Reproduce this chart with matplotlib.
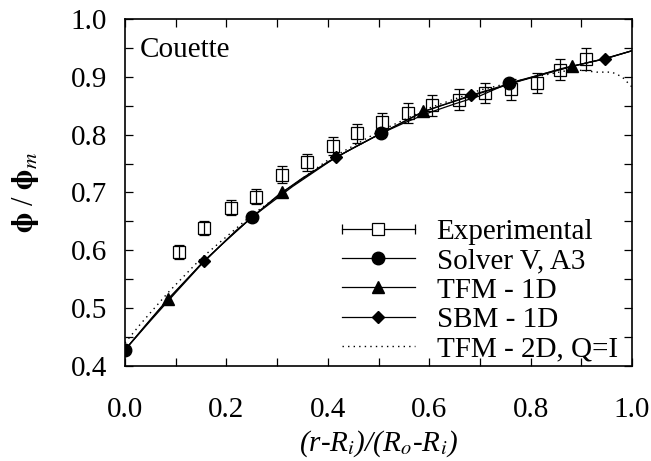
import numpy as np
import matplotlib
matplotlib.use("Agg")
import matplotlib.pyplot as plt
from matplotlib.lines import Line2D
from matplotlib.legend_handler import HandlerBase

plt.rcParams['font.family'] = ['Liberation Serif', 'DejaVu Serif']
plt.rcParams['mathtext.fontset'] = 'stix'

# Experimental data
exp_x = [0.107, 0.156, 0.209, 0.258, 0.310, 0.359, 0.410, 0.458, 0.507, 0.558,
         0.605, 0.659, 0.710, 0.761, 0.813, 0.858, 0.909]
exp_y = [0.597, 0.638, 0.674, 0.693, 0.731, 0.752, 0.780, 0.802, 0.821, 0.837,
         0.851, 0.860, 0.872, 0.878, 0.889, 0.912, 0.931]
exp_err = [0.012, 0.012, 0.013, 0.013, 0.015, 0.015, 0.016, 0.016, 0.017, 0.017,
           0.018, 0.018, 0.017, 0.018, 0.017, 0.018, 0.019]

# Solver V, A3 (markers at indices 0, 5, 10, 15)
solver_x = [0.0, 0.05, 0.10, 0.15, 0.20, 0.25, 0.30, 0.35, 0.40, 0.45, 0.505,
            0.55, 0.60, 0.65, 0.70, 0.757, 0.80, 0.85, 0.90, 0.95, 1.0]
solver_y = [0.428, 0.478, 0.527, 0.575, 0.618, 0.657, 0.694, 0.725, 0.752, 0.777, 0.802,
            0.820, 0.838, 0.853, 0.867, 0.889, 0.899, 0.911, 0.922, 0.932, 0.945]
solver_mark = [0, 5, 10, 15]

# TFM - 1D
tfm_x = [0.0, 0.04, 0.085, 0.15, 0.22, 0.31, 0.40, 0.50, 0.588, 0.68, 0.78, 0.882, 0.94, 1.0]
tfm_y = [0.428, 0.470, 0.516, 0.576, 0.635, 0.700, 0.753, 0.800, 0.840, 0.866, 0.893, 0.918, 0.930, 0.945]
tfm_mark = [2, 5, 8, 11]

# SBM - 1D
sbm_x = [0.0, 0.07, 0.156, 0.25, 0.33, 0.416, 0.50, 0.59, 0.682, 0.77, 0.86, 0.947, 1.0]
sbm_y = [0.428, 0.500, 0.582, 0.657, 0.710, 0.761, 0.800, 0.840, 0.868, 0.891, 0.914, 0.931, 0.945]
sbm_mark = [2, 5, 8, 11]

# TFM - 2D, Q=I
tfm2_x = [0.0, 0.03, 0.085, 0.15, 0.25, 0.40, 0.50, 0.60, 0.70, 0.80, 0.85, 0.88,
          0.90, 0.93, 0.96, 0.98, 1.0]
tfm2_y = [0.440, 0.472, 0.527, 0.586, 0.661, 0.756, 0.805, 0.846, 0.877, 0.898, 0.907, 0.912,
          0.911, 0.908, 0.908, 0.900, 0.882]

fig = plt.figure(figsize=(6.51, 4.61), dpi=100)
ax = fig.add_axes([0.192, 0.206, 0.779, 0.753])

lw = 0.9
ax.plot(tfm2_x, tfm2_y, color='black', lw=1.0, linestyle=(0, (1, 3)), zorder=2)
ax.plot(solver_x, solver_y, color='black', lw=lw, marker='o', markersize=9,
        markevery=solver_mark, zorder=3)
ax.plot(tfm_x, tfm_y, color='black', lw=lw, marker='^', markersize=9,
        markevery=tfm_mark, zorder=3)
ax.plot(sbm_x, sbm_y, color='black', lw=lw, marker='D', markersize=6.5,
        markevery=sbm_mark, zorder=3)
ax.errorbar(exp_x, exp_y, yerr=exp_err, fmt='s', mfc='none', mec='black',
            ms=8, mew=0.9, ecolor='black', elinewidth=0.9, capsize=3.5,
            capthick=0.9, zorder=4)


class ExpHandler(HandlerBase):
    def create_artists(self, legend, orig_handle, xdescent, ydescent,
                       width, height, fontsize, trans):
        y = height / 2 - ydescent
        x0, x1 = -xdescent, width - xdescent
        line = Line2D([x0, x1], [y, y], color='black', lw=0.9, transform=trans)
        caps = Line2D([x0, x1], [y, y], color='black', lw=0, marker='|',
                      markersize=7, mew=0.9, transform=trans)
        sq = Line2D([(x0 + x1) / 2], [y], color='black', lw=0, marker='s',
                    mfc='white', mec='black', markersize=8, mew=0.9, transform=trans)
        return [line, caps, sq]


h_exp = Line2D([], [])
h_sol = Line2D([], [], color='black', lw=lw, marker='o', markersize=9)
h_tfm = Line2D([], [], color='black', lw=lw, marker='^', markersize=9)
h_sbm = Line2D([], [], color='black', lw=lw, marker='D', markersize=6.5)
h_tfm2 = Line2D([], [], color='black', lw=1.0, linestyle=(0, (1, 3)))
leg = ax.legend([h_exp, h_sol, h_tfm, h_sbm, h_tfm2],
                ['Experimental', 'Solver V, A3', 'TFM - 1D', 'SBM - 1D', 'TFM - 2D, Q=I'],
                handler_map={h_exp: ExpHandler()},
                loc='lower right', bbox_to_anchor=(1.012, -0.048), frameon=False,
                fontsize=21, handlelength=2.5, labelspacing=0.1,
                handletextpad=0.75, borderaxespad=0.3)

ax.text(0.03, 0.91, 'Couette', transform=ax.transAxes, fontsize=21,
        va='center', ha='left')

ax.set_xlim(0, 1.0)
ax.set_ylim(0.4, 1.0)
ax.set_xticks(np.arange(0, 1.01, 0.2))
ax.set_xticks(np.arange(0, 1.01, 0.1), minor=True)
ax.set_yticks(np.arange(0.4, 1.01, 0.1))
ax.set_yticks(np.arange(0.4, 1.01, 0.05), minor=True)
ax.xaxis.set_major_formatter(matplotlib.ticker.FormatStrFormatter('%.1f'))
ax.yaxis.set_major_formatter(matplotlib.ticker.FormatStrFormatter('%.1f'))
ax.tick_params(which='both', direction='in', top=True, right=True, width=0.9)
ax.tick_params(which='major', length=6, labelsize=21)
ax.tick_params(axis='x', which='major', pad=22)
ax.tick_params(axis='y', which='major', pad=13)
ax.tick_params(which='minor', length=6)
for s in ax.spines.values():
    s.set_linewidth(1.2)

ax.set_xlabel('(r-R$_i$)/(R$_o$-R$_i$)', fontsize=21, fontstyle='italic', labelpad=4)
ax.set_ylabel(r'$\mathbf{\phi}$ / $\mathbf{\phi}_m$', fontsize=22, labelpad=21)

fig.savefig('out.png', dpi=100)
